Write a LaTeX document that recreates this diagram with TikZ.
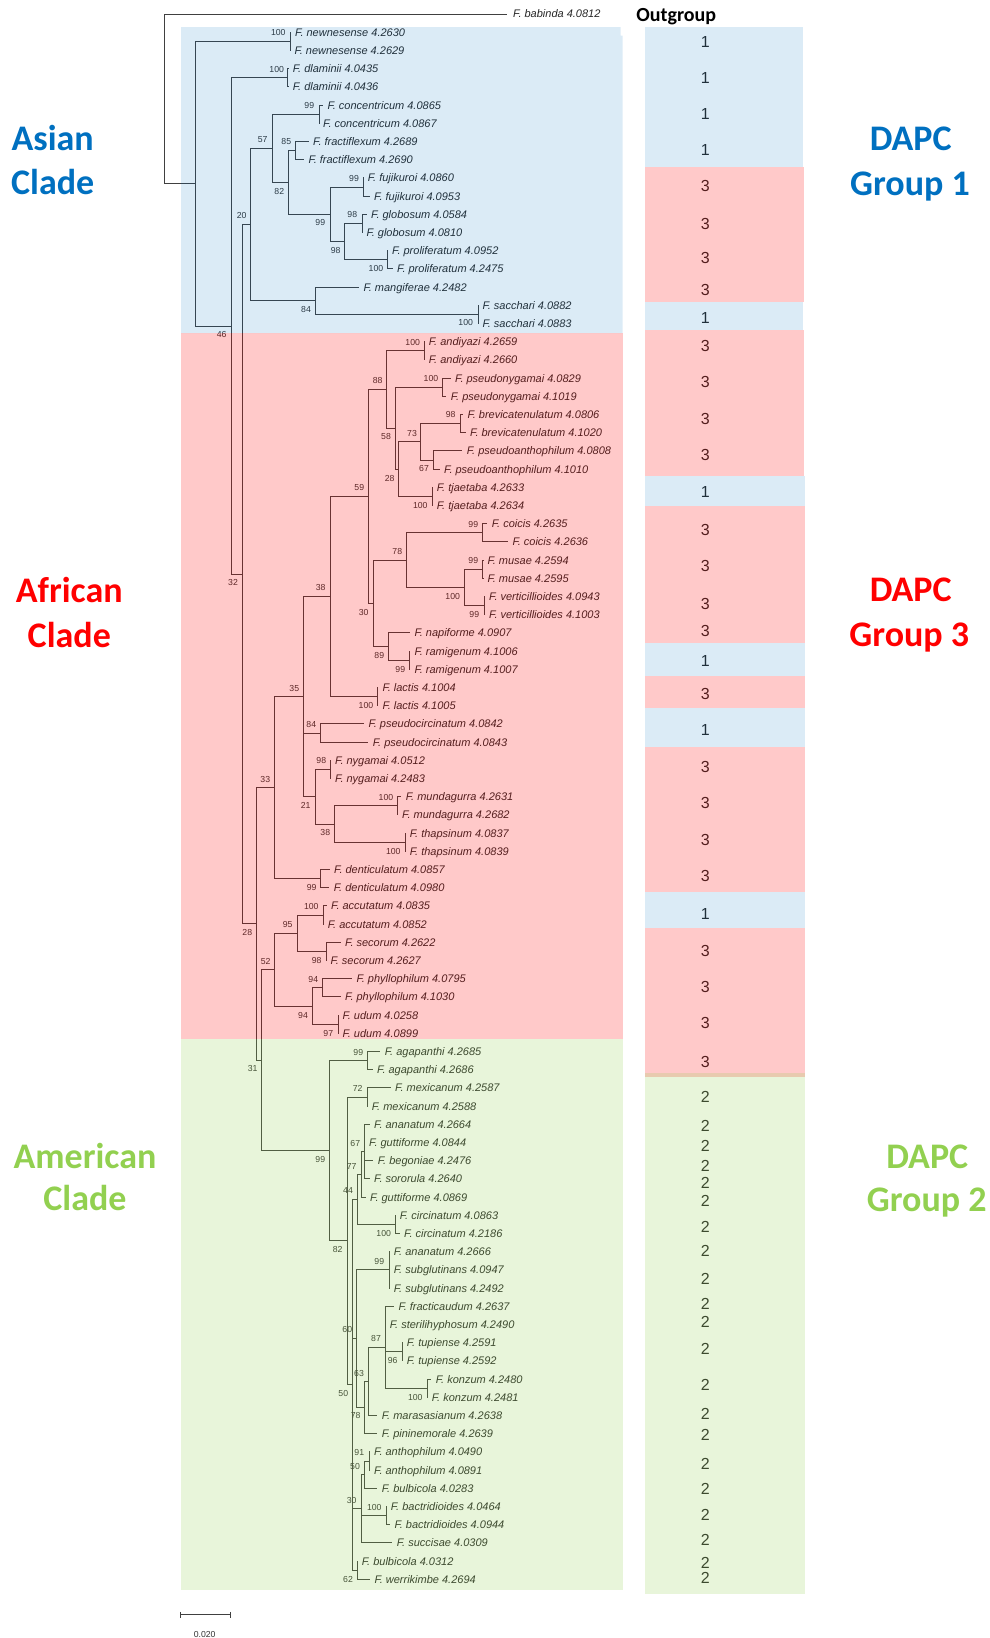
\documentclass[tikz,border=0pt]{standalone}
\usepackage{fontspec}
\setmainfont{Liberation Sans}
\newfontfamily\calib{Carlito}
\definecolor{ovBlue}{RGB}{0,112,192}
\definecolor{ovRed}{RGB}{255,0,0}
\definecolor{ovGreen}{RGB}{146,208,80}
\definecolor{cladeBlue}{RGB}{0,112,192}
\definecolor{cladeRed}{RGB}{255,0,0}
\definecolor{cladeGreen}{RGB}{146,208,80}
\newcommand\rowy[1]{32.3+18.2*(#1-1)}
\newcommand\mytip[4]{%
  \coordinate (#1) at ({#2-4.5},{\rowy{#3}});
  \node[tiplab] (#1l) at (#2,{\rowy{#3}+3.9}) {F. #4};}
\newcommand\mynode[3]{\coordinate (#1) at (#2,{\rowy{#3}});}
\newcommand\mykids[2]{\foreach \c in {#2}{\draw[branch] (#1) |- (\c);}}
\begin{document}
\begin{tikzpicture}[x=1pt,y=-1pt,
  branch/.style={draw=black!75, line width=0.9pt},
  tiplab/.style={anchor=base west, inner sep=0pt, font=\fontsize{11}{13}\selectfont\itshape, text=black!85},
  boot/.style={inner sep=0pt, font=\fontsize{8.7}{10}\selectfont, text=black!80},
  big/.style={inner sep=0pt, anchor=base, font=\calib\bfseries\fontsize{36}{40}\selectfont},
  dapcnum/.style={inner sep=0pt, font=\fontsize{16}{18}\selectfont, text=black!85},
  ovb/.style={fill=ovBlue, fill opacity=0.14},
  ovr/.style={fill=ovRed, fill opacity=0.21},
  ovg/.style={fill=ovGreen, fill opacity=0.21}]
\useasboundingbox (0,0) rectangle (989,1638);

% ---------- tips ----------
\coordinate (tbab) at (507,14);
\node[tiplab] (tbabl) at (513,17.9) {F. babinda 4.0812};
\mytip{t1}{295}{1}{newnesense 4.2630}
\mytip{t2}{294.3}{2}{newnesense 4.2629}
\mytip{t3}{292.7}{3}{dlaminii 4.0435}
\mytip{t4}{292.7}{4}{dlaminii 4.0436}
\mytip{t5}{327.3}{5}{concentricum 4.0865}
\mytip{t6}{323}{6}{concentricum 4.0867}
\mytip{t7}{313}{7}{fractiflexum 4.2689}
\mytip{t8}{308.3}{8}{fractiflexum 4.2690}
\mytip{t9}{367.7}{9}{fujikuroi 4.0860}
\mytip{t10}{374}{10}{fujikuroi 4.0953}
\mytip{t11}{371}{11}{globosum 4.0584}
\mytip{t12}{366.3}{12}{globosum 4.0810}
\mytip{t13}{392}{13}{proliferatum 4.0952}
\mytip{t14}{397}{14}{proliferatum 4.2475}
\mytip{t15}{363.3}{15}{mangiferae 4.2482}
\mytip{t16}{482.3}{16}{sacchari 4.0882}
\mytip{t17}{482.3}{17}{sacchari 4.0883}
\mytip{t18}{428.7}{18}{andiyazi 4.2659}
\mytip{t19}{428.7}{19}{andiyazi 4.2660}
\mytip{t20}{455}{20}{pseudonygamai 4.0829}
\mytip{t21}{450.7}{21}{pseudonygamai 4.1019}
\mytip{t22}{467.3}{22}{brevicatenulatum 4.0806}
\mytip{t23}{470}{23}{brevicatenulatum 4.1020}
\mytip{t24}{466.7}{24}{pseudoanthophilum 4.0808}
\mytip{t25}{444}{25}{pseudoanthophilum 4.1010}
\mytip{t26}{436.7}{26}{tjaetaba 4.2633}
\mytip{t27}{436.7}{27}{tjaetaba 4.2634}
\mytip{t28}{491.7}{28}{coicis 4.2635}
\mytip{t29}{512.3}{29}{coicis 4.2636}
\mytip{t30}{487.3}{30}{musae 4.2594}
\mytip{t31}{487.3}{31}{musae 4.2595}
\mytip{t32}{489}{32}{verticillioides 4.0943}
\mytip{t33}{489}{33}{verticillioides 4.1003}
\mytip{t34}{414.3}{34}{napiforme 4.0907}
\mytip{t35}{414.3}{35}{ramigenum 4.1006}
\mytip{t36}{414.3}{36}{ramigenum 4.1007}
\mytip{t37}{382.3}{37}{lactis 4.1004}
\mytip{t38}{382.3}{38}{lactis 4.1005}
\mytip{t39}{368.3}{39}{pseudocircinatum 4.0842}
\mytip{t40}{372.7}{40}{pseudocircinatum 4.0843}
\mytip{t41}{335}{41}{nygamai 4.0512}
\mytip{t42}{335}{42}{nygamai 4.2483}
\mytip{t43}{405.7}{43}{mundagurra 4.2631}
\mytip{t44}{402}{44}{mundagurra 4.2682}
\mytip{t45}{409.7}{45}{thapsinum 4.0837}
\mytip{t46}{409.7}{46}{thapsinum 4.0839}
\mytip{t47}{334}{47}{denticulatum 4.0857}
\mytip{t48}{333.7}{48}{denticulatum 4.0980}
\mytip{t49}{331}{49}{accutatum 4.0835}
\mytip{t50}{327.7}{50}{accutatum 4.0852}
\mytip{t51}{345}{51}{secorum 4.2622}
\mytip{t52}{330.3}{52}{secorum 4.2627}
\mytip{t53}{356.3}{53}{phyllophilum 4.0795}
\mytip{t54}{345}{54}{phyllophilum 4.1030}
\mytip{t55}{342.3}{55}{udum 4.0258}
\mytip{t56}{342.3}{56}{udum 4.0899}
\mytip{t57}{384.7}{57}{agapanthi 4.2685}
\mytip{t58}{377}{58}{agapanthi 4.2686}
\mytip{t59}{395}{59}{mexicanum 4.2587}
\mytip{t60}{371.7}{60}{mexicanum 4.2588}
\mytip{t61}{374}{61}{ananatum 4.2664}
\mytip{t62}{369}{62}{guttiforme 4.0844}
\mytip{t63}{377.7}{63}{begoniae 4.2476}
\mytip{t64}{374}{64}{sororula 4.2640}
\mytip{t65}{370}{65}{guttiforme 4.0869}
\mytip{t66}{399.7}{66}{circinatum 4.0863}
\mytip{t67}{404}{67}{circinatum 4.2186}
\mytip{t68}{393.7}{68}{ananatum 4.2666}
\mytip{t69}{393.7}{69}{subglutinans 4.0947}
\mytip{t70}{393.7}{70}{subglutinans 4.2492}
\mytip{t71}{398.3}{71}{fracticaudum 4.2637}
\mytip{t72}{389.7}{72}{sterilihyphosum 4.2490}
\mytip{t73}{406.7}{73}{tupiense 4.2591}
\mytip{t74}{406.7}{74}{tupiense 4.2592}
\mytip{t75}{435.7}{75}{konzum 4.2480}
\mytip{t76}{431.7}{76}{konzum 4.2481}
\mytip{t77}{381.7}{77}{marasasianum 4.2638}
\mytip{t78}{381.7}{78}{pininemorale 4.2639}
\mytip{t79}{374}{79}{anthophilum 4.0490}
\mytip{t80}{374}{80}{anthophilum 4.0891}
\mytip{t81}{381.7}{81}{bulbicola 4.0283}
\mytip{t82}{390.7}{82}{bactridioides 4.0464}
\mytip{t83}{394.3}{83}{bactridioides 4.0944}
\mytip{t84}{396.7}{84}{succisae 4.0309}
\mytip{t85}{361.7}{85}{bulbicola 4.0312}
\mytip{t86}{374.3}{86}{werrikimbe 4.2694}

% ---------- internal nodes ----------
\mynode{nnewn}{290}{1.5}
\mynode{ndlam}{287.7}{3.5}
\mynode{nconc}{319}{5.5}
\mynode{nfrac}{295.7}{7.5}
\mynode{nfuji}{363.3}{9.5}
\mynode{nglob}{362}{11.5}
\mynode{nprol}{387.3}{13.5}
\mynode{A8}{344.7}{12.5}
\mynode{A7}{330}{11}
\mynode{A6}{288.3}{9.25}
\mynode{A4}{272}{7.375}
\mynode{nsacc}{478}{16.5}
\mynode{A5}{315.7}{15.75}
\mynode{A3}{250.7}{11.5625}
\mynode{nandi}{424}{18.5}
\mynode{npnyg}{442.3}{20.5}
\mynode{nbrev}{460}{22.5}
\mynode{nG}{433.3}{24.5}
\mynode{nF}{420.7}{23.5}
\mynode{ntjae}{432}{26.5}
\mynode{nE}{398.7}{25}
\mynode{nD}{395.3}{22.75}
\mynode{nC}{386.7}{20.625}
\mynode{ncoic}{482.7}{28.5}
\mynode{nmusa}{482.7}{30.5}
\mynode{nvert}{484}{32.5}
\mynode{nJ}{464.3}{31.5}
\mynode{nI}{406.7}{30}
\mynode{nrami}{409.3}{35.5}
\mynode{nK}{388.3}{34.75}
\mynode{nH}{373}{32.375}
\mynode{nB}{368.3}{26.5}
\mynode{nlact}{377.3}{37.5}
\mynode{nL}{330}{32}
\mynode{npcirc}{320.3}{39.5}
\mynode{nnyga}{330.3}{41.5}
\mynode{nmund}{397.3}{43.5}
\mynode{nthap}{405}{45.5}
\mynode{nP}{334.3}{44.5}
\mynode{nN}{315.3}{43}
\mynode{nM}{303.7}{37.5}
\mynode{ndent}{320.3}{47.5}
\mynode{nO}{274.3}{42.5}
\mynode{naccu}{323.3}{49.5}
\mynode{nseco}{326}{51.5}
\mynode{nS}{297}{50.5}
\mynode{nphyl}{322.7}{53.5}
\mynode{nudum}{338}{55.5}
\mynode{nW}{312.3}{54.5}
\mynode{nT}{274.7}{52.5}
\mynode{nagap}{367.7}{57.5}
\mynode{nmexi}{367}{59.5}
\mynode{n67}{364.3}{62.5}
\mynode{n77}{361}{63.75}
\mynode{ncirc}{395.7}{66.5}
\mynode{nZ}{357.3}{65.125}
\mynode{nsubg}{389.3}{69}
\mynode{ntupi}{402.3}{73.5}
\mynode{nkonz}{427.3}{75.5}
\mynode{n87}{385.3}{73.25}
\mynode{n63}{368.3}{75.125}
\mynode{n78}{364.3}{76.5625}
\mynode{n60}{356.7}{72.78125}
\mynode{nanth}{369.3}{79.5}
\mynode{n50b}{364.3}{80.25}
\mynode{nbact}{386}{82.5}
\mynode{n30}{361}{82.125}
\mynode{n62}{357.3}{85.5}
\mynode{nY}{352.3}{75.3125}
\mynode{nX}{347.3}{67.40625}
\mynode{nV}{329.7}{62.453125}
\mynode{nU}{261.7}{57.4765625}
\mynode{nR}{256.3}{49.98828125}
\mynode{A2}{242.3}{30.775390625}
\mynode{A1}{231}{17.1376953125}
\mynode{A0}{195.7}{9.31884765625}
\coordinate (root) at (164.3,98.85);

% ---------- branches ----------
\mykids{root}{tbab,A0}
\mykids{A0}{nnewn,A1}
\mykids{nnewn}{t1,t2}
\mykids{A1}{ndlam,A2}
\mykids{ndlam}{t3,t4}
\mykids{A2}{A3,nR}
\mykids{A3}{A4,A5}
\mykids{A4}{nconc,A6}
\mykids{nconc}{t5,t6}
\mykids{A6}{nfrac,A7}
\mykids{nfrac}{t7,t8}
\mykids{A7}{nfuji,A8}
\mykids{nfuji}{t9,t10}
\mykids{A8}{nglob,nprol}
\mykids{nglob}{t11,t12}
\mykids{nprol}{t13,t14}
\mykids{A5}{t15,nsacc}
\mykids{nsacc}{t16,t17}
\mykids{nR}{nO,nU}
\mykids{nO}{nM,ndent}
\mykids{nM}{nL,npcirc,nN}
\mykids{nL}{nB,nlact}
\mykids{nB}{nC,nH}
\mykids{nC}{nandi,nD}
\mykids{nandi}{t18,t19}
\mykids{nD}{npnyg,nE}
\mykids{npnyg}{t20,t21}
\mykids{nE}{nF,ntjae}
\mykids{nF}{nbrev,nG}
\mykids{nbrev}{t22,t23}
\mykids{nG}{t24,t25}
\mykids{ntjae}{t26,t27}
\mykids{nH}{nI,nK}
\mykids{nI}{ncoic,nJ}
\mykids{ncoic}{t28,t29}
\mykids{nJ}{nmusa,nvert}
\mykids{nmusa}{t30,t31}
\mykids{nvert}{t32,t33}
\mykids{nK}{t34,nrami}
\mykids{nrami}{t35,t36}
\mykids{nlact}{t37,t38}
\mykids{npcirc}{t39,t40}
\mykids{nN}{nnyga,nP}
\mykids{nnyga}{t41,t42}
\mykids{nP}{nmund,nthap}
\mykids{nmund}{t43,t44}
\mykids{nthap}{t45,t46}
\mykids{ndent}{t47,t48}
\mykids{nU}{nT,nV}
\mykids{nT}{nS,nW}
\mykids{nS}{naccu,nseco}
\mykids{naccu}{t49,t50}
\mykids{nseco}{t51,t52}
\mykids{nW}{nphyl,nudum}
\mykids{nphyl}{t53,t54}
\mykids{nudum}{t55,t56}
\mykids{nV}{nagap,nX}
\mykids{nagap}{t57,t58}
\mykids{nX}{nmexi,nY}
\mykids{nmexi}{t59,t60}
\mykids{nY}{nZ,n60,n30,n62}
\mykids{nZ}{n77,ncirc}
\mykids{n77}{n67,t65}
\mykids{n67}{t61,t62,t63,t64}
\mykids{ncirc}{t66,t67}
\mykids{n60}{nsubg,n78}
\mykids{nsubg}{t68,t69,t70}
\mykids{n78}{n63,t78}
\mykids{n63}{n87,t77}
\mykids{n87}{t71,t72,ntupi,nkonz}
\mykids{ntupi}{t73,t74}
\mykids{nkonz}{t75,t76}
\mykids{n30}{n50b,nbact,t84}
\mykids{n50b}{nanth,t81}
\mykids{nanth}{t79,t80}
\mykids{nbact}{t82,t83}
\mykids{n62}{t85,t86}

% ---------- bootstrap values ----------
\node[boot] (b1) at (278.3,32.3) {100};
\node[boot] (b2) at (276.7,69.3) {100};
\node[boot] (b3) at (309.3,105.3) {99};
\node[boot] (b4) at (262.7,139.7) {57};
\node[boot] (b5) at (286.3,141.7) {85};
\node[boot] (b6) at (279.3,191.3) {82};
\node[boot] (b7) at (354,178.3) {99};
\node[boot] (b8) at (241.7,215.7) {20};
\node[boot] (b9) at (352.3,214.3) {98};
\node[boot] (b10) at (320.3,223) {99};
\node[boot] (b11) at (335.7,250.3) {98};
\node[boot] (b12) at (376,268.7) {100};
\node[boot] (b13) at (306,309.7) {84};
\node[boot] (b14) at (465.7,322.7) {100};
\node[boot] (b15) at (221.7,334.3) {46};
\node[boot] (b16) at (412.7,342.3) {100};
\node[boot] (b17) at (377.7,380.7) {88};
\node[boot] (b18) at (431,378.7) {100};
\node[boot] (b19) at (450.7,414.7) {98};
\node[boot] (b20) at (412,433.3) {73};
\node[boot] (b21) at (386,436.7) {58};
\node[boot] (b22) at (424,468.7) {67};
\node[boot] (b23) at (389.7,478) {28};
\node[boot] (b24) at (359.3,487.7) {59};
\node[boot] (b25) at (420.3,505) {100};
\node[boot] (b26) at (473.3,524) {99};
\node[boot] (b27) at (397.3,551.3) {78};
\node[boot] (b28) at (473.3,560) {99};
\node[boot] (b29) at (233,582.7) {32};
\node[boot] (b30) at (320.7,587.7) {38};
\node[boot] (b31) at (452.7,596.3) {100};
\node[boot] (b32) at (363.7,612.3) {30};
\node[boot] (b33) at (474.3,614.3) {99};
\node[boot] (b34) at (379.3,655.3) {89};
\node[boot] (b35) at (400.3,669) {99};
\node[boot] (b36) at (294.3,688) {35};
\node[boot] (b37) at (366,705.7) {100};
\node[boot] (b38) at (311.3,724.3) {84};
\node[boot] (b39) at (321.3,760.3) {98};
\node[boot] (b40) at (265.3,779) {33};
\node[boot] (b41) at (386,797) {100};
\node[boot] (b42) at (305.7,805.7) {21};
\node[boot] (b43) at (325.3,832.7) {38};
\node[boot] (b44) at (393.3,851) {100};
\node[boot] (b45) at (311.7,887.3) {99};
\node[boot] (b46) at (311.3,906.3) {100};
\node[boot] (b47) at (287.7,924.3) {95};
\node[boot] (b48) at (247.3,932.3) {28};
\node[boot] (b49) at (316.7,960.7) {98};
\node[boot] (b50) at (265.7,961) {52};
\node[boot] (b51) at (313.3,979.3) {94};
\node[boot] (b52) at (303,1015) {94};
\node[boot] (b53) at (328.3,1033) {97};
\node[boot] (b54) at (358.3,1052) {99};
\node[boot] (b55) at (252.7,1068.7) {31};
\node[boot] (b56) at (357.7,1088.3) {72};
\node[boot] (b57) at (355.3,1143) {67};
\node[boot] (b58) at (320.3,1159) {99};
\node[boot] (b59) at (351.7,1166) {77};
\node[boot] (b60) at (348,1190.7) {44};
\node[boot] (b61) at (383.7,1233.3) {100};
\node[boot] (b62) at (337.7,1249.3) {82};
\node[boot] (b63) at (379.3,1261.7) {99};
\node[boot] (b64) at (347.3,1329.3) {60};
\node[boot] (b65) at (376,1338.7) {87};
\node[boot] (b66) at (392.7,1360.7) {96};
\node[boot] (b67) at (359,1373.3) {63};
\node[boot] (b68) at (343.3,1393.3) {50};
\node[boot] (b69) at (415.3,1397) {100};
\node[boot] (b70) at (355.7,1415.7) {78};
\node[boot] (b71) at (359.3,1452.3) {91};
\node[boot] (b72) at (355,1466.7) {50};
\node[boot] (b73) at (351.7,1500.7) {30};
\node[boot] (b74) at (374.3,1507) {100};
\node[boot] (b75) at (348,1579.3) {62};

% ---------- scale bar ----------
\coordinate (sb1) at (180,1614.8);
\coordinate (sb2) at (230,1614.8);
\draw[branch] (sb1) -- (sb2);
\draw[branch] (sb1) ++(0,-3) -- ++(0,6);
\draw[branch] (sb2) ++(0,-3) -- ++(0,6);
\node[boot] (sbl) at (204.7,1634.3) {0.020};

% ---------- DAPC numbers ----------
\foreach \yy in {41.8,77.5,113.6,150,317.9,492.1,661.4,730.4,914.3}
  {\node[dapcnum] at (705.3,\yy) {1};}
\foreach \yy in {186.4,223.9,257.9,290.4,346.4,382.1,418.9,455,530.4,565.7,603.6,631.4,694.3,767.1,803.2,840,876.4,951.4,987.1,1023.2,1062.1}
  {\node[dapcnum] at (705.3,\yy) {3};}
\foreach \yy in {1097.3,1125.7,1146.3,1165.5,1183.2,1201.3,1226.7,1250.7,1278.7,1303.5,1321.5,1348.5,1384.6,1413.4,1434.8,1463.9,1488.6,1514.8,1540.3,1562.4,1578.3}
  {\node[dapcnum] at (705.3,\yy) {2};}

% ---------- overlays ----------
\fill[ovb] (181,27) -- (620.7,27) -- (620.7,35.5) -- (622.7,35.5) -- (622.7,333) -- (181,333) -- cycle;
\fill[ovr] (181,333) rectangle (622.7,1039);
\fill[ovg] (181,1039) rectangle (623.3,1590);
\fill[ovb] (645,27) rectangle (803,166.8);
\fill[ovr] (645,166.8) rectangle (804,301.8);
\fill[ovb] (645,301.8) rectangle (803,330);
\fill[ovr] (645,330) rectangle (804,475.7);
\fill[ovb] (645,475.7) rectangle (805,506);
\fill[ovr] (645,506) rectangle (805,642.9);
\fill[ovb] (645,642.9) rectangle (805,676);
\fill[ovr] (645,676) rectangle (805,707.5);
\fill[ovb] (645,707.5) rectangle (805,747.1);
\fill[ovr] (645,747.1) rectangle (805,891.8);
\fill[ovb] (645,891.8) rectangle (805,927.5);
\fill[ovr] (645,927.5) rectangle (805,1076.8);
\fill[ovg] (645,1072.9) rectangle (805,1593.7);

% ---------- headings ----------
\node[inner sep=0pt, anchor=base, font=\calib\bfseries\fontsize{20}{24}\selectfont] (outg) at (676.3,21.3) {Outgroup};
\node[big, text=cladeBlue] (as1) at (52.7,150.7) {Asian};
\node[big, text=cladeBlue] (as2) at (52.7,194.3) {Clade};
\node[big, text=cladeRed] (af1) at (69.3,602.4) {African};
\node[big, text=cladeRed] (af2) at (69.3,647.1) {Clade};
\node[big, text=cladeGreen] (am1) at (85,1168) {American};
\node[big, text=cladeGreen] (am2) at (85,1210.9) {Clade};
\node[big, text=cladeBlue] (g1a) at (910.7,150.7) {DAPC};
\node[big, text=cladeBlue] (g1b) at (910,195.4) {Group 1};
\node[big, text=cladeRed] (g3a) at (910.7,601.4) {DAPC};
\node[big, text=cladeRed] (g3b) at (909.3,646) {Group 3};
\node[big, text=cladeGreen] (g2a) at (927.3,1168) {DAPC};
\node[big, text=cladeGreen] (g2b) at (926.7,1211.6) {Group 2};
\end{tikzpicture}
\end{document}
